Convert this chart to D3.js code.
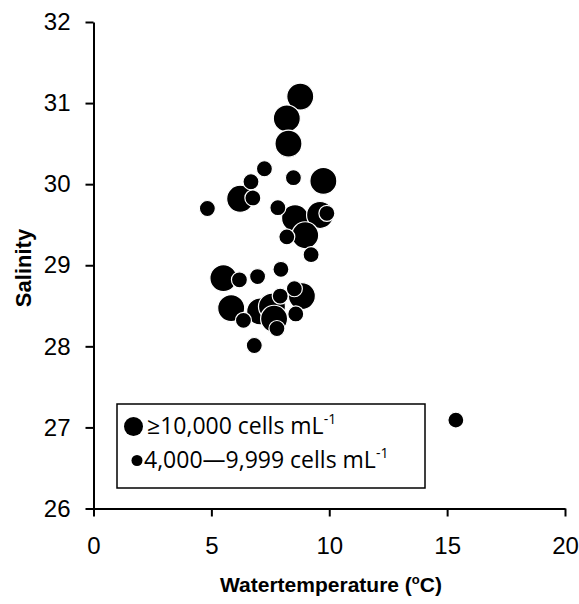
<html>
<head>
<script src="https://d3js.org/d3.v7.min.js"></script>
<style>
body { margin: 0; background: #fff; }
.axis path, .axis line { stroke: #000; stroke-width: 2px; }
.axis text { font-family: "Liberation Sans", Arial, sans-serif; font-size: 24px; fill: #000; }
.title { font-family: "Liberation Sans", Arial, sans-serif; font-weight: bold; font-size: 21px; }
.legend text { font-family: "Open Sans", Lato, sans-serif; font-size: 23px; }
</style>
</head>
<body>
<script>

// >=10,000 cells mL-1
var bigTemp = [8.77, 8.20, 8.27, 6.22, 9.75, 8.55, 9.61, 8.98, 5.51, 8.84, 5.84, 7.07, 7.57, 7.66];
var bigSal  = [31.08, 30.81, 30.50, 29.82, 30.04, 29.58, 29.62, 29.37, 28.84, 28.62, 28.47, 28.43, 28.49, 28.34];

// 4,000-9,999 cells mL-1
var smallTemp = [7.25, 6.68, 6.76, 8.48, 4.83, 7.82, 9.90, 8.20, 9.23, 7.95, 6.19, 6.96, 8.52, 7.92, 6.36, 7.78, 8.58, 6.82, 15.37];
var smallSal  = [30.19, 30.03, 29.83, 30.08, 29.70, 29.71, 29.64, 29.35, 29.13, 28.95, 28.82, 28.86, 28.71, 28.62, 28.32, 28.22, 28.40, 28.01, 27.09];

var xTicks = [0, 5, 10, 15, 20];
var yTicks = [26, 27, 28, 29, 30, 31, 32];

var W = 579, H = 604;
var svg = d3.select("body").append("svg").attr("width", W).attr("height", H);

var x = d3.scaleLinear().domain([0, 20]).range([93.5, 565]);
var y = d3.scaleLinear().domain([26, 32]).range([508.5, 22]);

svg.append("g").attr("class", "axis")
  .attr("transform", "translate(0,508.5)")
  .call(d3.axisBottom(x).tickValues(xTicks).tickFormat(d3.format("d"))
    .tickSize(8).tickSizeOuter(0).tickPadding(20));

svg.append("g").attr("class", "axis")
  .attr("transform", "translate(93.5,0)")
  .call(d3.axisLeft(y).tickValues(yTicks).tickFormat(d3.format("d"))
    .tickSize(8).tickSizeOuter(0).tickPadding(15));

// points
var big = bigTemp.map(function(t, i) { return {t: t, s: bigSal[i]}; });
var small = smallTemp.map(function(t, i) { return {t: t, s: smallSal[i]}; });

svg.append("g").selectAll("circle").data(big).enter().append("circle")
  .attr("cx", function(d) { return x(d.t); })
  .attr("cy", function(d) { return y(d.s); })
  .attr("r", 13.5)
  .attr("fill", "#000").attr("stroke", "#fff").attr("stroke-width", 1.2);

svg.append("g").selectAll("circle").data(small).enter().append("circle")
  .attr("cx", function(d) { return x(d.t); })
  .attr("cy", function(d) { return y(d.s); })
  .attr("r", 8)
  .attr("fill", "#000").attr("stroke", "#fff").attr("stroke-width", 1.2);

// axis titles
svg.append("text").attr("class", "title")
  .attr("transform", "translate(31,268) rotate(-90)")
  .attr("text-anchor", "middle")
  .style("font-size", "22px")
  .text("Salinity");

var xt = svg.append("text").attr("class", "title")
  .attr("x", 331).attr("y", 592)
  .attr("text-anchor", "middle");
xt.append("tspan").text("Watertemperature (");
xt.append("tspan").attr("font-size", "13px").attr("dy", -8).text("o");
xt.append("tspan").attr("dy", 8).text("C)");

// legend
var lg = svg.append("g").attr("class", "legend");
lg.append("rect").attr("x", 117).attr("y", 404).attr("width", 308).attr("height", 84)
  .attr("fill", "#fff").attr("stroke", "#000").attr("stroke-width", 1.5);

var legendItems = [
  {r: 9.5, cx: 133.5, cy: 426.5, tx: 147, ty: 434, label: "\u226510,000 cells mL"},
  {r: 5.5, cx: 137, cy: 460.5, tx: 144, ty: 468, label: "4,000\u20149,999 cells mL"}
];
legendItems.forEach(function(d) {
  lg.append("circle").attr("cx", d.cx).attr("cy", d.cy).attr("r", d.r).attr("fill", "#000");
  var t = lg.append("text").attr("x", d.tx).attr("y", d.ty);
  t.append("tspan").text(d.label);
  t.append("tspan").attr("font-size", "14px").attr("dy", -10).text("-1");
});

</script>
</body>
</html>
